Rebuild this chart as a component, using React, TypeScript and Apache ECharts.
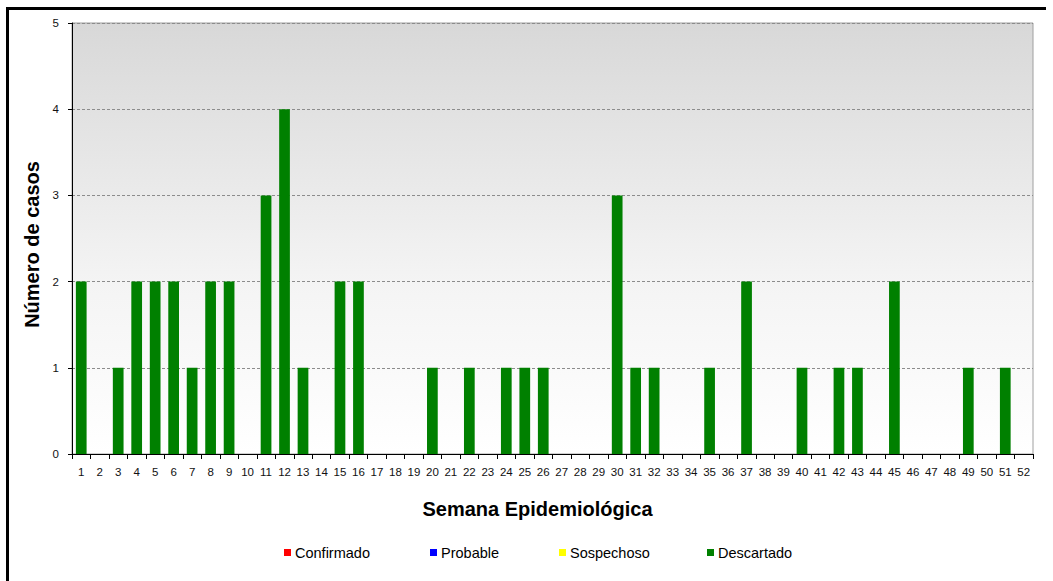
import React, { useEffect, useRef } from "react";
import * as echarts from "echarts";

const weeks: string[] = Array.from({ length: 52 }, (_, i) => String(i + 1));
const confirmado: number[] = new Array(52).fill(0);
const probable: number[] = new Array(52).fill(0);
const sospechoso: number[] = new Array(52).fill(0);
const descartado: number[] = [
  2, 0, 1, 2, 2, 2, 1, 2, 2, 0,
  3, 4, 1, 0, 2, 2, 0, 0, 0, 1,
  0, 1, 0, 1, 1, 1, 0, 0, 0, 3,
  1, 1, 0, 0, 1, 0, 2, 0, 0, 1,
  0, 1, 1, 0, 2, 0, 0, 0, 1, 0,
  1, 0,
];
const yTicks = { min: 0, max: 5, interval: 1 };

const FONT = "'Liberation Sans', Arial, sans-serif";

export default function App() {
  const ref = useRef<HTMLDivElement>(null);
  useEffect(() => {
    if (!ref.current) return;
    const chart = echarts.init(ref.current, null, { renderer: "svg" });
    const legendItem = (name: string, left: number) => ({
      data: [name],
      left,
      top: 545,
      padding: 0,
      itemWidth: 7,
      itemHeight: 7,
      itemGap: 4,
      icon: "rect",
      textStyle: { fontFamily: FONT, fontSize: 14.5, color: "#000", padding: [0, 0, 0, -1] },
      selectedMode: false,
    });
    const mk = (name: string, data: number[], color: string) => ({
      name,
      type: "bar",
      stack: "total",
      data,
      barWidth: "58%",
      itemStyle: { color },
    });
    chart.setOption({
      animation: false,
      backgroundColor: "#fff",
      textStyle: { fontFamily: FONT },
      grid: {
        left: 72,
        right: 20,
        top: 23,
        bottom: 127,
        show: true,
        borderColor: "#a0a0a0",
        borderWidth: 1,
        backgroundColor: {
          type: "linear",
          x: 0,
          y: 0,
          x2: 0,
          y2: 1,
          colorStops: [
            { offset: 0, color: "#d8d8d8" },
            { offset: 0.6, color: "#f4f4f4" },
            { offset: 1, color: "#ffffff" },
          ],
        },
      },
      legend: [
        legendItem("Confirmado", 284),
        legendItem("Probable", 430),
        legendItem("Sospechoso", 559),
        legendItem("Descartado", 707),
      ],
      xAxis: {
        type: "category",
        data: weeks,
        name: "Semana Epidemiológica",
        nameLocation: "middle",
        nameGap: 45,
        nameTextStyle: { fontFamily: FONT, fontSize: 20, fontWeight: "bold", color: "#000", padding: [0, 0, 0, -30] },
        axisLine: { lineStyle: { color: "#000", width: 1 } },
        axisTick: { show: true, length: 5, lineStyle: { color: "#000" } },
        axisLabel: { interval: 0, fontSize: 11.5, color: "#111", margin: 12, fontFamily: FONT },
        splitLine: { show: false },
      },
      yAxis: {
        type: "value",
        min: yTicks.min,
        max: yTicks.max,
        interval: yTicks.interval,
        name: "Número de casos",
        nameLocation: "middle",
        nameGap: 29,
        nameRotate: 90,
        nameTextStyle: { fontFamily: FONT, fontSize: 20, fontWeight: "bold", color: "#000", padding: [0, 0, 0, -12] },
        axisLine: { show: true, lineStyle: { color: "#000", width: 1 } },
        axisTick: { show: true, length: 4, lineStyle: { color: "#000" } },
        axisLabel: { fontSize: 11.5, color: "#111", margin: 13, fontFamily: FONT },
        splitLine: { show: true, lineStyle: { color: "#8c8c8c", type: [3, 2], width: 1 } },
      },
      series: [
        mk("Confirmado", confirmado, "#ff0000"),
        mk("Probable", probable, "#0000ff"),
        mk("Sospechoso", sospechoso, "#ffff00"),
        mk("Descartado", descartado, "#008000"),
      ],
      graphic: [
        { type: "rect", shape: { x: 6, y: 7, width: 3, height: 574 }, style: { fill: "#000" }, silent: true },
        { type: "rect", shape: { x: 6, y: 7, width: 1040, height: 3 }, style: { fill: "#000" }, silent: true },
      ],
    });
    return () => chart.dispose();
  }, []);
  return <div ref={ref} style={{ position: "absolute", left: 0, top: 0, width: 1053, height: 581 }} />;
}
